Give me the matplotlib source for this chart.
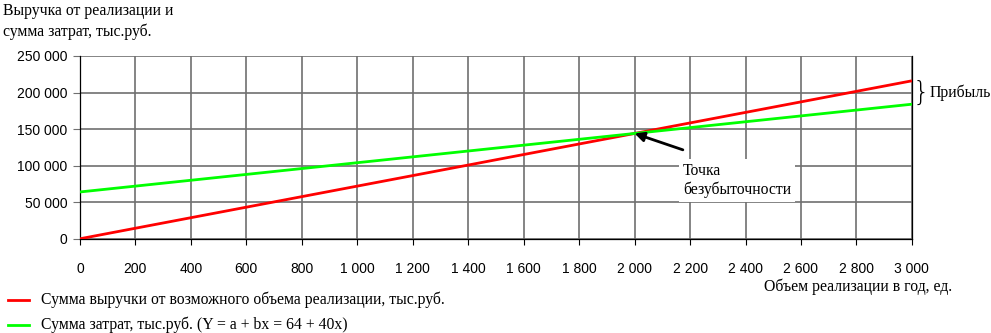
import numpy as np
import matplotlib
matplotlib.use("Agg")
import matplotlib.pyplot as plt
from matplotlib.lines import Line2D

# data: volume (units) and values in thousand rubles
volume = [0, 3000]
revenue = [0, 216000]          # 72 * x
costs = [64000, 184000]        # 64 000 + 40 * x
breakeven = (2000, 144000)

x_ticks = list(range(0, 3001, 200))
y_ticks = list(range(0, 250001, 50000))


def fmt(v):
    return f"{v:,}".replace(",", " ")


plt.rcParams["font.family"] = ["Liberation Serif", "DejaVu Serif"]
plt.rcParams["font.size"] = 11.3

fig = plt.figure(figsize=(9.91, 3.33), dpi=100)
ax = fig.add_axes([0.0807, 0.283, 0.8395, 0.549])

ax.plot(volume, revenue, color="#ff0000", lw=2.0, solid_capstyle="butt", zorder=3)
ax.plot(volume, costs, color="#00ff00", lw=2.0, solid_capstyle="butt", zorder=3)

ax.set_xlim(0, 3000)
ax.set_ylim(0, 250000)
ax.set_xticks(x_ticks)
ax.set_xticklabels([fmt(v) for v in x_ticks], family="Liberation Sans", fontsize=10)
ax.set_yticks(y_ticks)
ax.set_yticklabels([fmt(v) for v in y_ticks], family="Liberation Sans", fontsize=10)
ax.tick_params(axis="x", length=4, pad=13, color="black")
ax.tick_params(axis="y", length=5, pad=4, color="#707070")
ax.grid(True, color="#707070", lw=1.2, zorder=1)
ax.set_axisbelow(True)

ax.spines["top"].set_visible(False)
for s in ["left", "bottom", "right"]:
    ax.spines[s].set_color("black")
    ax.spines[s].set_linewidth(0.9)

# break-even annotation
ax.annotate("", xy=breakeven, xytext=(2174, 121600),
            arrowprops=dict(arrowstyle="-|>", color="black", lw=2,
                            mutation_scale=14, shrinkA=0, shrinkB=0),
            zorder=4)
ax.text(2174, 104000, "Точка\nбезубыточности", ha="left", va="top",
        linespacing=1.25,
        bbox=dict(boxstyle="square,pad=0.25", fc="white", ec="none"),
        zorder=4)

# profit brace
ax.text(3003, 200000, "}", fontsize=19, va="center", ha="left",
        clip_on=False, family="DejaVu Sans", fontweight="light")
ax.text(3062, 200000, "Прибыль", va="center", ha="left", clip_on=False)

fig.text(0.003, 0.99, "Выручка от реализации и\nсумма затрат, тыс.руб.",
         ha="left", va="top", linespacing=1.3)
fig.text(0.866, 0.138, "Объем реализации в год, ед.", ha="center",
         va="center")

# legend
fig.add_artist(Line2D([0.008, 0.029], [0.099, 0.099], color="#ff0000", lw=2))
fig.add_artist(Line2D([0.008, 0.029], [0.024, 0.024], color="#00ff00", lw=2))
fig.text(0.041, 0.099, "Сумма выручки от возможного объема реализации, тыс.руб.",
         va="center")
fig.text(0.041, 0.024, "Сумма затрат, тыс.руб. (Y = a + bx = 64 + 40x)",
         va="center")

fig.savefig("out.png", dpi=100)
